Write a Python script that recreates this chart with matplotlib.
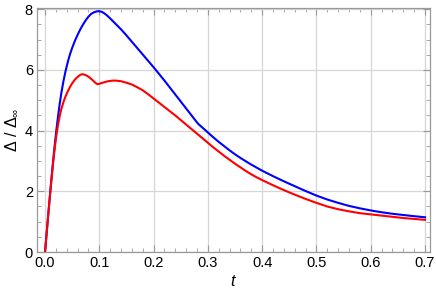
import matplotlib
matplotlib.use('Agg')
import matplotlib.pyplot as plt
from matplotlib.ticker import MultipleLocator

plt.rcParams['font.family'] = ['Liberation Sans', 'DejaVu Sans']
plt.rcParams['mathtext.fontset'] = 'custom'
plt.rcParams['mathtext.rm'] = 'Liberation Sans'
plt.rcParams['mathtext.it'] = 'Liberation Sans:italic'

# values
t_blue = [0.0, 0.003, 0.006, 0.009, 0.012, 0.015, 0.018, 0.021, 0.024, 0.027,
          0.03, 0.034, 0.038, 0.042, 0.046, 0.05, 0.055, 0.06, 0.065, 0.07,
          0.075, 0.08, 0.085, 0.09, 0.095, 0.099, 0.104, 0.109, 0.114, 0.12,
          0.13, 0.14, 0.15, 0.16, 0.17, 0.18, 0.19, 0.2, 0.21, 0.22,
          0.23, 0.24, 0.25, 0.26, 0.27, 0.28, 0.283, 0.29, 0.3, 0.31,
          0.32, 0.33, 0.34, 0.35, 0.36, 0.37, 0.38, 0.39, 0.4, 0.42,
          0.44, 0.46, 0.48, 0.5, 0.52, 0.54, 0.56, 0.58, 0.6, 0.62,
          0.64, 0.66, 0.68, 0.7]
blue = [0.0, 0.63, 1.25, 1.86, 2.45, 3.02, 3.55, 4.04, 4.48, 4.88,
        5.24, 5.64, 5.98, 6.27, 6.52, 6.73, 6.96, 7.16, 7.34, 7.5,
        7.64, 7.76, 7.85, 7.9, 7.93, 7.94, 7.92, 7.87, 7.8, 7.7,
        7.52, 7.34, 7.14, 6.93, 6.72, 6.51, 6.3, 6.09, 5.87, 5.65,
        5.42, 5.19, 4.96, 4.73, 4.5, 4.27, 4.21, 4.1, 3.94, 3.78,
        3.63, 3.49, 3.35, 3.22, 3.1, 2.99, 2.88, 2.78, 2.68, 2.5,
        2.33, 2.17, 2.01, 1.86, 1.73, 1.62, 1.52, 1.44, 1.37, 1.31,
        1.26, 1.22, 1.18, 1.145]

t_red = [0.0, 0.003, 0.006, 0.009, 0.012, 0.015, 0.018, 0.021, 0.024, 0.027,
         0.03, 0.034, 0.038, 0.042, 0.046, 0.05, 0.054, 0.058, 0.062, 0.065,
         0.068, 0.072, 0.076, 0.08, 0.084, 0.088, 0.092, 0.095, 0.097, 0.1,
         0.105, 0.11, 0.115, 0.12, 0.125, 0.13, 0.14, 0.15, 0.16, 0.17,
         0.18, 0.19, 0.2, 0.21, 0.22, 0.23, 0.24, 0.25, 0.26, 0.27,
         0.28, 0.29, 0.3, 0.31, 0.32, 0.33, 0.34, 0.35, 0.36, 0.37,
         0.38, 0.39, 0.4, 0.42, 0.44, 0.46, 0.48, 0.5, 0.52, 0.54,
         0.56, 0.58, 0.6, 0.62, 0.64, 0.66, 0.68, 0.7]
red = [0.0, 0.63, 1.25, 1.85, 2.42, 2.96, 3.44, 3.86, 4.2, 4.48,
       4.71, 4.95, 5.14, 5.3, 5.44, 5.56, 5.66, 5.74, 5.8, 5.84,
       5.86, 5.85, 5.82, 5.78, 5.72, 5.66, 5.59, 5.55, 5.53, 5.545,
       5.575, 5.6, 5.625, 5.64, 5.65, 5.65, 5.63, 5.58, 5.52, 5.43,
       5.33, 5.2, 5.06, 4.92, 4.78, 4.64, 4.5, 4.35, 4.2, 4.05,
       3.9, 3.75, 3.6, 3.45, 3.31, 3.17, 3.04, 2.91, 2.79, 2.67,
       2.56, 2.46, 2.37, 2.2, 2.04, 1.89, 1.75, 1.62, 1.5, 1.41,
       1.34, 1.28, 1.24, 1.2, 1.16, 1.12, 1.09, 1.06]

fig = plt.figure(figsize=(4.36, 3.0), dpi=100)
ax = fig.add_axes([0.085, 0.16, 0.901, 0.813])

ax.plot(t_blue, blue, color='#0000ff', lw=1.5, zorder=3, solid_joinstyle='round')
ax.plot(t_red, red, color='#ff0000', lw=1.5, zorder=3, solid_joinstyle='round')

ax.set_xlim(-0.0147, 0.709)
ax.set_ylim(0, 8.04)
ax.xaxis.set_major_locator(MultipleLocator(0.1))
ax.xaxis.set_minor_locator(MultipleLocator(0.02))
ax.yaxis.set_major_locator(MultipleLocator(2))
ax.yaxis.set_minor_locator(MultipleLocator(0.5))
ax.xaxis.set_major_formatter(plt.FuncFormatter(lambda v, p: f'{v:.1f}'))

ax.grid(True, which='major', color='#d6d6d6', lw=0.9)
ax.tick_params(which='both', direction='in', top=True, right=True,
               color='#999999', labelsize=10.5, labelcolor='black', pad=3)
ax.tick_params(which='major', length=5, width=0.8)
ax.tick_params(which='minor', length=3, width=0.6)
for s in ax.spines.values():
    s.set_color('#999999')
    s.set_linewidth(0.9)

ax.set_xlabel('$t$', fontsize=11.5, labelpad=3)
ax.set_ylabel(r'Δ / Δ$_{\infty}$', fontsize=11.5, labelpad=3)

fig.savefig('out.png', dpi=100)
